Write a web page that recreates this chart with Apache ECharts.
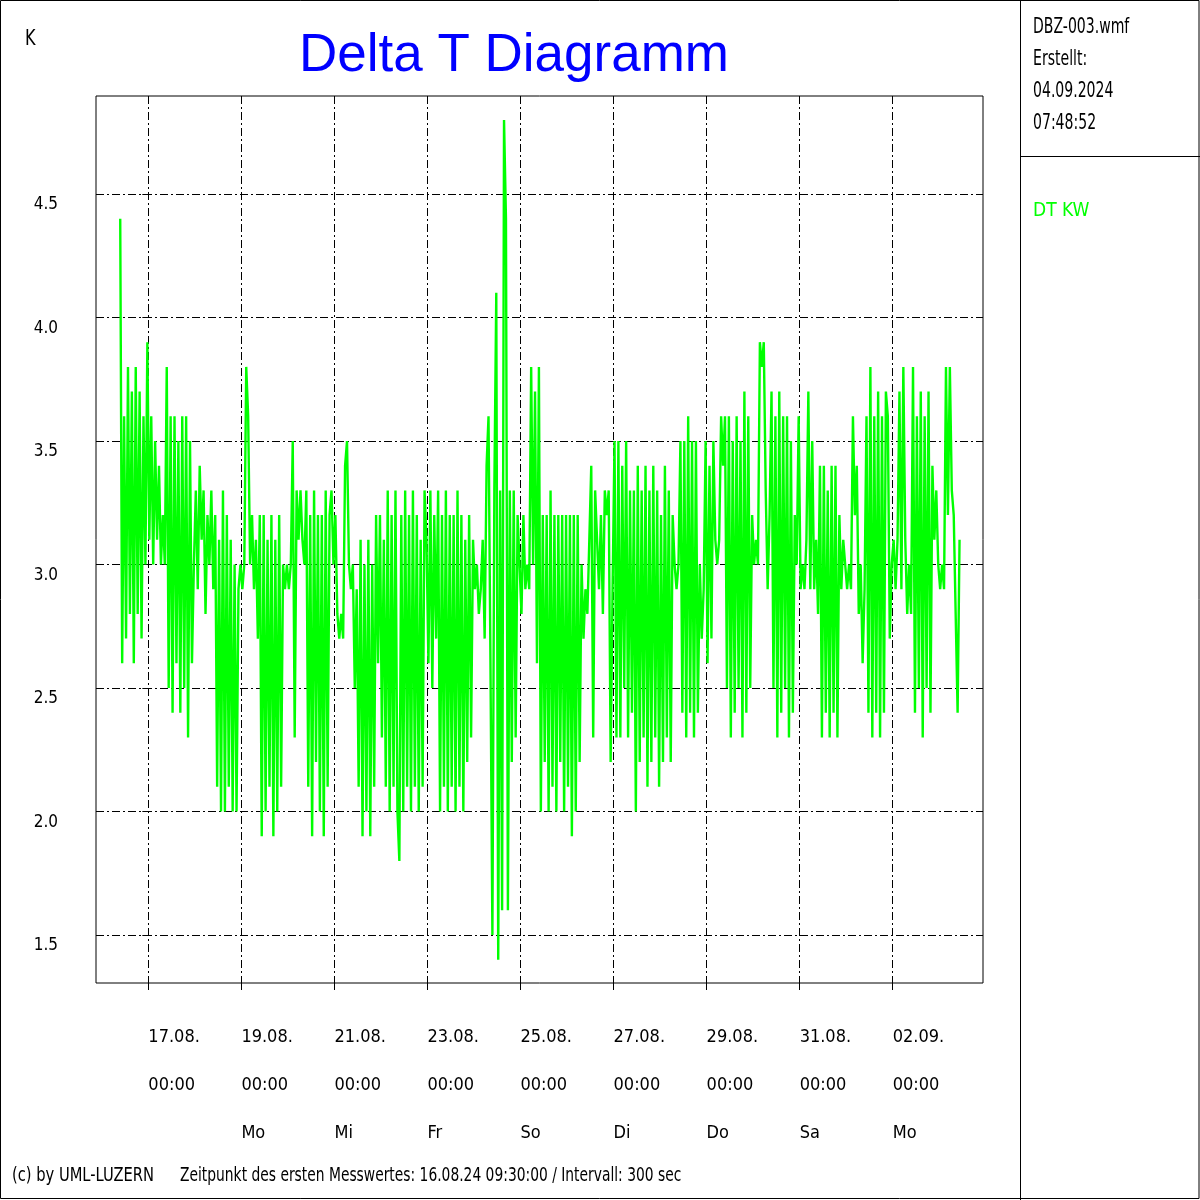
<!DOCTYPE html>
<html>
<head>
<meta charset="utf-8">
<script src="https://cdn.jsdelivr.net/npm/echarts@6/dist/echarts.min.js"></script>
<style>
html,body{margin:0;padding:0;background:#fff;}
#chart{width:1200px;height:1200px;}
</style>
</head>
<body>
<div id="chart"></div>
<script>
// ---- Data (DT KW, K) resampled to 1-hour steps ----
const firstHour = -14.5;   // 16.08.24 09:30 relative to 17.08. 00:00 (hours)
const stepHours = 1;
const dt16to18Aug = [4.4,2.6, 3.6,2.7,3.8,2.8,3.7, 2.6,3.8,2.8,3.7,2.7, 3.6,3.0, 3.9,
  3.1,3.6,3.0,3.5,3.1, 3.4,3.0,3.2,3.0,
  3.8,2.5,3.6,2.4,3.6,2.6,3.5,2.4,3.6,2.5,3.6,2.3,3.5,2.6,
  3.0,3.3,2.9,3.4,3.1,3.3,2.8,3.2,3.0,3.3,2.9,
  3.2,2.1,3.1,2.0,3.3,2.0,3.2,2.1,3.1,2.0,3.0,2.0];
const dt19to21Aug = [2.9,3.0,2.9,3.0, 3.8,3.6,3.0, 3.2,2.9,3.1,2.7,3.2,
  1.9,3.2,2.0,3.1,2.1,3.2,1.9,3.1,2.0,3.2,2.1,3.0,
  2.9,3.0,2.9,3.0, 3.5,2.3,3.3, 3.1,3.3,3.1,3.0,
  3.3,2.1,3.2,1.9,3.3,2.2,3.2,2.0,3.2,1.9,3.3,2.1,3.2,
  3.3,3.0,3.2, 2.8,2.7,2.8,2.7, 3.4,3.5,3.0,2.9, 3.0,2.5,2.9];
const dt22to24Aug = [2.1,3.1,1.9,3.0,2.0,3.1,1.9,3.0,2.1, 3.2,2.6,3.2,2.3,3.1,
  2.1,3.3,2.0,3.2,2.1,3.3,2.0,1.8,3.2,2.0,3.3,2.1,3.2,2.0,3.3,2.1,3.2,2.0,3.1,2.1,3.3,
  3.1,2.6,3.3,2.5,3.2,2.7,
  3.3,2.0,3.2,2.1,3.3,2.0,3.2,2.1,3.2,2.0,3.3,2.1,3.2,2.0,3.1,2.2,
  3.2,2.3, 3.1,2.9,3.0,2.8,2.9,3.1,2.7, 3.4, 3.6,2.6, 1.5,3.3, 4.1,1.4,3.3,1.6, 4.8,
  4.4,1.6,3.3,2.2,3.3,2.3,3.2, 3.0,2.8,3.2,2.9,3.0,2.9, 3.8,3.0,3.7,2.6,3.8];
const dt25to28Aug = [2.0,3.2,2.2,3.2,2.0,3.3,2.1,3.2,2.0,3.2,2.2,3.2,2.0,3.2,2.1,3.2,1.9,3.2,2.0,3.2,2.2,
  3.0,2.7,2.9,2.8, 3.1, 3.4,2.3,3.3, 3.1,2.9,3.2,2.8, 3.3,3.2,3.3, 2.2,2.9, 3.5,2.3,
  3.5,2.3,3.4,2.5,3.5,2.3,3.3,2.4,
  3.3,2.0,3.4,2.2,3.3,2.3,3.4,2.1,3.3,2.2,3.4,2.3,3.3,2.1,3.2,2.2,3.4,2.3,3.3,2.2,3.2,
  3.0,2.9,3.0, 3.5,2.4,3.5,2.3,3.6,2.4,3.5,2.3,3.5,2.4, 3.0,2.7,2.9,
  3.5,2.6,3.4,2.7,3.5, 3.1,3.0,3.1, 3.6,3.4,3.6,
  2.5,3.6,2.3,3.5,2.4,3.6,2.5,3.5,2.3,3.7,2.4,3.6,2.5];
const dt29Augto03Sep = [3.2,3.0,3.1,3.0, 3.9,3.8,3.9, 3.3,2.9,3.2,
  3.7,2.5,3.6,2.3,3.7,2.4,3.6,2.5,3.6,2.3,3.5,2.4, 3.2,3.0,
  3.6,2.9,3.0,2.9,3.1, 3.7,2.9,3.5,2.9, 3.1,2.8,
  3.4,2.3,3.4,2.4,3.3,2.3,3.4,2.4,3.4,2.3, 3.2,2.9,3.1, 3.0,2.9,3.0,2.9,
  3.6,3.2,3.4,2.8, 3.0,2.6,2.9,
  3.6,2.4,3.8,2.3,3.6,2.4,3.7,2.3,3.6,2.4,3.7,3.6, 2.7,3.0, 3.1,2.9,3.1,
  3.7,2.9,3.8, 3.1,2.8,3.0,2.8,
  3.8,2.4,3.6,2.5,3.7,2.3,3.6,2.5,3.7,2.4, 3.4,3.1,3.3, 3.0,2.9,3.0,2.9,
  3.8,3.2,3.8,3.3, 3.2,2.8,2.4,3.1];

// ---- Axis ticks / labels ----
const xTickHours = [0,48,96,144,192,240,288,336,384];
const xDateLabels = ['17.08.','19.08.','21.08.','23.08.','25.08.','27.08.','29.08.','31.08.','02.09.'];
const xTimeLabels = ['00:00','00:00','00:00','00:00','00:00','00:00','00:00','00:00','00:00'];
const xWeekdayLabels = ['','Mo','Mi','Fr','So','Di','Do','Sa','Mo'];
const yTickValues = [1.5,2.0,2.5,3.0,3.5,4.0,4.5];

const seriesName = 'DT KW';
const titleText = 'Delta T Diagramm';
const unitText = 'K';
const infoLines = ['DBZ-003.wmf','Erstellt:','04.09.2024','07:48:52'];
const footerLeft = '(c) by UML-LUZERN';
const footerRight = 'Zeitpunkt des ersten Messwertes: 16.08.24 09:30:00 / Intervall: 300 sec';

const allValues = [].concat(dt16to18Aug, dt19to21Aug, dt22to24Aug, dt25to28Aug, dt29Augto03Sep);
const seriesData = allValues.map((v, i) => [firstHour + i * stepHours, v]);

const NARROW = '"Liberation Sans Narrow","Arial Narrow","DejaVu Sans Condensed",sans-serif';
const SANS = '"Liberation Sans",Arial,sans-serif';
const gridDash = [8,3,2,3];

function panelText(x, y, text, color, size, sx) {
  return {type: 'text', x: x, y: y, scaleX: sx, scaleY: 1, silent: true,
    style: {text: text, fill: color, font: size + 'px ' + NARROW, textAlign: 'left', textVerticalAlign: 'middle'}};
}

const chart = echarts.init(document.getElementById('chart'), null, {renderer:'canvas'});
const option = {
  animation: false,
  backgroundColor: '#ffffff',
  textStyle: {fontFamily: NARROW},
  legend: {
    data: [seriesName], left: 1023, top: 197, icon: 'rect', itemWidth: 0, itemHeight: 0,
    textStyle: {color: '#00ff00', fontSize: 19, fontFamily: NARROW}
  },
  grid: {left: 96, top: 96, width: 887, height: 887, show: true, borderColor: '#000', borderWidth: 1, containLabel: false},
  xAxis: {
    type: 'value', min: -27.0, max: 430.6,
    axisLine: {show: false},
    axisTick: {show: true, length: 7, lineStyle: {color: '#000', width: 1}, customValues: xTickHours},
    axisLabel: {
      customValues: xTickHours, color: '#000', fontSize: 18, fontFamily: NARROW,
      align: 'left', margin: 30, lineHeight: 48,
      formatter: function (v) {
        const i = xTickHours.indexOf(Math.round(v));
        if (i < 0) return '';
        return xDateLabels[i] + '\n' + xTimeLabels[i] + '\n' + xWeekdayLabels[i];
      }
    },
    splitLine: {show: true, lineStyle: {color: '#000', width: 1, type: gridDash}}
  },
  yAxis: {
    type: 'value', min: 1.3057, max: 4.8968,
    axisLine: {show: false},
    axisTick: {show: true, length: 6, lineStyle: {color: '#000', width: 1}, customValues: yTickValues},
    axisLabel: {
      customValues: yTickValues, color: '#000', fontSize: 17, fontFamily: NARROW,
      align: 'right', margin: 38, verticalAlign: 'top', lineHeight: 22,
      formatter: function (v) { return v.toFixed(1); }
    },
    splitLine: {show: true, lineStyle: {color: '#000', width: 1, type: gridDash}}
  },
  series: [{
    name: seriesName, type: 'line', step: 'end', data: seriesData,
    showSymbol: false, symbol: 'none', smooth: false,
    lineStyle: {color: '#00ff00', width: 2.4, join: 'miter', cap: 'butt'}, itemStyle: {color: '#00ff00'},
    z: 3
  }],
  graphic: [
    {type: 'rect', shape: {x: 0.5, y: 0.5, width: 1198.5, height: 1198}, style: {fill: null, stroke: '#000', lineWidth: 1}, silent: true},
    {type: 'line', shape: {x1: 1020.5, y1: 0, x2: 1020.5, y2: 1200}, style: {stroke: '#000', lineWidth: 1}, silent: true},
    {type: 'line', shape: {x1: 1020, y1: 156.5, x2: 1200, y2: 156.5}, style: {stroke: '#000', lineWidth: 1}, silent: true},
    {type: 'text', x: 514, y: 56, silent: true, style: {text: titleText, fill: '#0000ff', font: '53px ' + SANS, textAlign: 'center', textVerticalAlign: 'middle'}},
    panelText(25, 40, unitText, '#000', 21, 0.85),
    panelText(1033, 27, infoLines[0], '#000', 22, 0.71),
    panelText(1033, 59, infoLines[1], '#000', 22, 0.71),
    panelText(1033, 91, infoLines[2], '#000', 22, 0.71),
    panelText(1033, 123, infoLines[3], '#000', 22, 0.71),
    panelText(12, 1176, footerLeft, '#000', 19, 0.86),
    panelText(180, 1176, footerRight, '#000', 19, 0.81)
  ]
};
chart.setOption(option);
</script>
</body>
</html>
